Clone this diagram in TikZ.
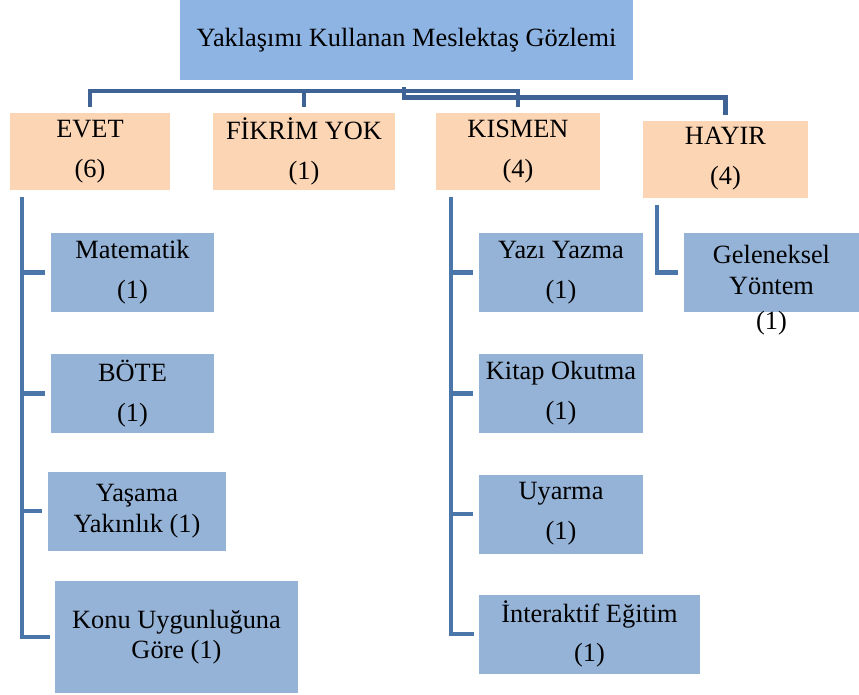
\documentclass[tikz,border=0pt]{standalone}
\usepackage{fontspec}
\setmainfont{Liberation Serif}
\usetikzlibrary{calc}

\definecolor{anamavi}{RGB}{142,180,227}
\definecolor{turuncu}{RGB}{252,213,181}
\definecolor{kutumavi}{RGB}{149,179,215}
\definecolor{koyumavi}{RGB}{62,99,148}
\definecolor{cizgimavi}{RGB}{74,118,170}

\tikzstyle{kutu}=[rectangle,inner sep=0pt,outer sep=0pt,align=center,
    minimum height=2.37cm,font=\fontsize{22.5}{26}\selectfont]
\tikzstyle{ana kutu}=[kutu,fill=anamavi,minimum height=2.4cm]
\tikzstyle{turuncu kutu}=[kutu,fill=turuncu,minimum height=2.31cm]
\tikzstyle{mavi kutu}=[kutu,fill=kutumavi]
\tikzstyle{ust baglanti}=[line width=3.6pt,color=koyumavi,line cap=butt]
\tikzstyle{yan baglanti}=[line width=4.2pt,color=cizgimavi,line cap=butt]
% #2 = centre (px), #3 = name, #4 = width (px), #5 = text
\newcommand{\kutu}[5][]{
    \node[#1,minimum width=#4*0.03cm] at (#2) (#3) {#5};
}

\begin{document}
\begin{tikzpicture}[x=0.03cm,y=-0.03cm]
    \useasboundingbox (0,0) rectangle (859,695);

    \kutu[ana kutu]{406.5,40}{ana}{453}{Yaklaşımı Kullanan Meslektaş Gözlemi}

    \kutu[turuncu kutu]{90,151.5}{evet}{160}{EVET\\[8pt](6)}
    \kutu[turuncu kutu]{304,151.5}{fikrim}{182}{FİKRİM YOK\\[8pt](1)}
    \kutu[turuncu kutu]{518,151.5}{kismen}{164}{KISMEN\\[8pt](4)}
    \kutu[turuncu kutu]{725.5,159}{hayir}{165}{HAYIR\\[8pt](4)}

    \kutu[mavi kutu]{132.5,272.5}{mat}{163}{Matematik\\[8pt](1)}
    \kutu[mavi kutu]{132.5,393.5}{bote}{163}{BÖTE\\[8pt](1)}
    \kutu[mavi kutu]{137,511}{yasama}{178}{Yaşama\\Yakınlık (1)}
    \kutu[mavi kutu,minimum height=3.36cm]{176.5,637}{konu}{243}{Konu Uygunluğuna\\Göre (1)}

    \kutu[mavi kutu]{561,272.5}{yazi}{164}{Yazı Yazma\\[8pt](1)}
    \kutu[mavi kutu]{561,393.5}{kitap}{164}{Kitap Okutma\\[8pt](1)}
    \kutu[mavi kutu]{561,514}{uyarma}{164}{Uyarma\\[8pt](1)}
    \kutu[mavi kutu]{589.5,634}{inter}{221}{İnteraktif Eğitim\\[8pt](1)}

    \kutu[mavi kutu]{771.5,272.5}{gel}{175}{}
    \node[kutu] (geltext) at (771.5,290) {Geleneksel\\Yöntem\\[4pt](1)};

    % ust baglantilar
    \coordinate (hat1) at (0,91);
    \coordinate (hat2) at (0,97.5);
    \coordinate (gobek) at (404,87);
    \draw[ust baglanti,shorten <=0.18cm,shorten >=0.18cm]
        (evet.north) -- (evet.north |- hat1) -| (kismen.north);
    \draw[ust baglanti,shorten <=0.18cm] (fikrim.north) -- (fikrim.north |- hat1);
    \draw[ust baglanti,shorten >=0.18cm] (gobek) |- (hayir.north |- hat2) -- (hayir.north);

    % EVET kolu
    \coordinate (omur1) at ([xshift=0.36cm,yshift=-0.21cm]evet.south west);
    \draw[yan baglanti] (omur1) |- ([xshift=-0.15cm]konu.west);
    \foreach \k in {mat,bote,yasama}
        \draw[yan baglanti] (omur1 |- \k.west) -- ([xshift=-0.18cm]\k.west);

    % KISMEN kolu
    \coordinate (omur2) at ([xshift=0.45cm,yshift=-0.21cm]kismen.south west);
    \draw[yan baglanti] (omur2) |- ([xshift=-0.15cm]inter.west);
    \foreach \k in {yazi,kitap,uyarma}
        \draw[yan baglanti] (omur2 |- \k.west) -- ([xshift=-0.18cm]\k.west);

    % HAYIR kolu
    \coordinate (omur3) at ([xshift=0.42cm,yshift=-0.21cm]hayir.south west);
    \draw[yan baglanti] (omur3) |- ([xshift=-0.18cm]gel.west);
\end{tikzpicture}
\end{document}
